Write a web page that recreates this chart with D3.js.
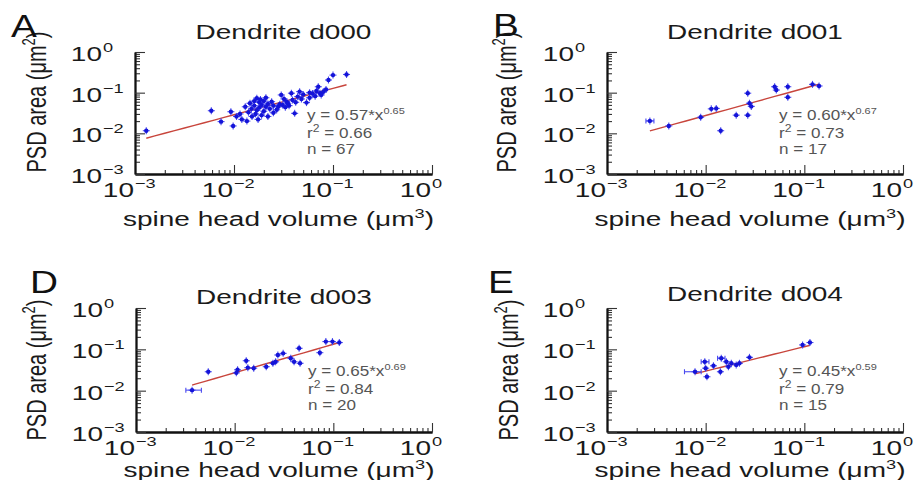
<!DOCTYPE html>
<html>
<head>
<meta charset="utf-8">
<script src="https://cdn.jsdelivr.net/npm/d3@7"></script>
<style>
  body { margin: 0; background: #fff; }
  svg text { font-family: "Liberation Sans", Arial, sans-serif; }
</style>
</head>
<body>
<div id="graphic"></div>
<script>
(function(d3){

    // Panel texts
    let panelLetters = ['A', 'B', 'D', 'E'];
    let panelTitles = ['Dendrite d000', 'Dendrite d001', 'Dendrite d003', 'Dendrite d004'];

    // Power-law fit y = a * x^b
    let fitCoef = ['0.57', '0.60', '0.65', '0.45'];
    let fitExp = ['0.65', '0.67', '0.69', '0.59'];
    let fitR2 = ['0.66', '0.73', '0.84', '0.79'];
    let fitN = [67, 17, 20, 15];

    // Decade ticks on both axes
    let decadeTicks = [1e-3, 1e-2, 1e-1, 1];
    let decadeExps = ['\u22123', '\u22122', '\u22121', '0'];

    // Spine head volume (um^3) and PSD area (um^2), one pair of arrays per dendrite
    let volA = [0.0013, 0.0059, 0.0074, 0.0093, 0.0098, 0.0106, 0.0115, 0.012,
                0.013, 0.0135, 0.014, 0.0145, 0.015, 0.0152, 0.016, 0.016, 0.0165, 0.017, 0.017, 0.0175,
                0.018, 0.018, 0.0185, 0.019, 0.019, 0.020, 0.020, 0.021, 0.021, 0.022, 0.022, 0.023,
                0.024, 0.025, 0.025, 0.027, 0.028, 0.029, 0.030, 0.031, 0.032, 0.033, 0.034, 0.035,
                0.036, 0.038, 0.039, 0.041, 0.042, 0.044, 0.046, 0.048, 0.050, 0.054, 0.058, 0.058,
                0.062, 0.066, 0.068, 0.071, 0.074, 0.076, 0.080, 0.085, 0.090, 0.100, 0.137];
    let psdA = [0.0116, 0.036, 0.0194, 0.034, 0.0152, 0.026, 0.030, 0.022,
                0.045, 0.020, 0.033, 0.055, 0.040, 0.026, 0.062, 0.048, 0.030, 0.073, 0.037, 0.022,
                0.058, 0.043, 0.068, 0.050, 0.028, 0.062, 0.035, 0.045, 0.075, 0.053, 0.026, 0.040,
                0.060, 0.032, 0.048, 0.038, 0.045, 0.052, 0.088, 0.050, 0.070, 0.044, 0.060, 0.055,
                0.048, 0.097, 0.066, 0.031, 0.058, 0.080, 0.106, 0.070, 0.090, 0.057, 0.075, 0.100,
                0.095, 0.082, 0.110, 0.140, 0.097, 0.088, 0.105, 0.120, 0.205, 0.270, 0.280];

    let volB = [0.00272, 0.00423, 0.0089, 0.0114, 0.0128, 0.0142, 0.0204, 0.0267, 0.0267,
                0.0278, 0.0290, 0.050, 0.052, 0.068, 0.068, 0.121, 0.141];
    let psdB = [0.0202, 0.0152, 0.0248, 0.040, 0.041, 0.0116, 0.028, 0.028, 0.097,
                0.055, 0.046, 0.140, 0.116, 0.140, 0.077, 0.160, 0.146];

    let volD = [0.0037, 0.0054, 0.0104, 0.0131, 0.0136, 0.0156, 0.0209, 0.0244, 0.026, 0.0274,
                0.031, 0.037, 0.040, 0.045, 0.046, 0.073, 0.084, 0.098, 0.115, 0.0107];
    let psdD = [0.0103, 0.0287, 0.027, 0.053, 0.036, 0.035, 0.038, 0.046, 0.050, 0.073,
                0.080, 0.061, 0.050, 0.106, 0.046, 0.083, 0.154, 0.154, 0.146, 0.032];

    let volE = [0.0078, 0.0098, 0.0100, 0.0103, 0.0120, 0.0141, 0.0144, 0.0162, 0.0170,
                0.0182, 0.0204, 0.022, 0.0278, 0.096, 0.114];
    let psdE = [0.0287, 0.050, 0.035, 0.0217, 0.040, 0.0287, 0.061, 0.050, 0.038,
                0.046, 0.042, 0.046, 0.064, 0.128, 0.146];

    // Wider horizontal error bars: [panel, volume, psd, low, high]
    let wideErrors = [
        [1, 0.00272, 0.0202, 0.00248, 0.00299],
        [2, 0.0037, 0.0103, 0.0032, 0.0046],
        [3, 0.0078, 0.0287, 0.0061, 0.0090],
        [3, 0.0098, 0.050, 0.0090, 0.0108],
        [3, 0.0144, 0.061, 0.0132, 0.0157]
    ];

    let volumes = [volA, volB, volD, volE];
    let areas = [psdA, psdB, psdD, psdE];

    let width = 924, height = 480;

    // The source figure was widened, so its lettering is stretched sideways
    let stretch = 1.4;

    // Axes box of each panel and where its texts go
    let boxes = [
        { left: 135, right: 432, top: 52, bottom: 174, letterX: 11, letterY: 37, titleY: 39, xLabY: 226, yLabX: 46, yLabY: 102 },
        { left: 607, right: 903, top: 52, bottom: 174, letterX: 493, letterY: 36, titleY: 39, xLabY: 226, yLabX: 516, yLabY: 102 },
        { left: 136, right: 432, top: 308, bottom: 432, letterX: 30, letterY: 293, titleY: 304, xLabY: 477, yLabX: 46, yLabY: 370 },
        { left: 607, right: 903, top: 308, bottom: 432, letterX: 488, letterY: 293, titleY: 301, xLabY: 477, yLabX: 518, yLabY: 370 }
    ];

    let dotColor = '#1414d8', errColor = '#4b4bf0', fitColor = '#c8453c', noteColor = '#555', inkColor = '#1a1a1a';

    let svg = d3.select('#graphic')
                .append('svg')
                .attr('width', width)
                .attr('height', height);

    // Text placed at (x, y) and stretched sideways
    function addText(g, x, y, size, sx, anchor, color)
    {
        return g.append('text')
                .attr('transform', `translate(${x},${y}) scale(${sx},1)`)
                .attr('text-anchor', anchor || 'start')
                .style('font-size', size + 'px')
                .attr('fill', color || inkColor);
    }

    // "10" ends at x, the exponent starts right after it
    function powerLabel(g, x, y, exp)
    {
        addText(g, x - 1, y, 20, stretch, 'end').text('10');
        addText(g, x, y - 9, 13, stretch, 'start').text(exp);
    }

    function drawPanel(i)
    {
        let box = boxes[i];
        let g = svg.append('g');

        let x = d3.scaleLog().domain([1e-3, 1]).range([box.left, box.right]);
        let y = d3.scaleLog().domain([1e-3, 1]).range([box.bottom, box.top]);

        let minorX = x.ticks().filter(t => decadeTicks.indexOf(t) < 0);
        let minorY = y.ticks().filter(t => decadeTicks.indexOf(t) < 0);

        // Inward ticks, long on the decades
        let xAxisG = g.append('g').attr('transform', `translate(0,${box.bottom})`);
        xAxisG.append('g').call(d3.axisBottom(x).tickValues(minorX).tickSizeInner(-4).tickSizeOuter(0).tickFormat(''));
        xAxisG.append('g').call(d3.axisBottom(x).tickValues(decadeTicks).tickSizeInner(-9).tickSizeOuter(0).tickFormat(''));

        let yAxisG = g.append('g').attr('transform', `translate(${box.left},0)`);
        yAxisG.append('g').call(d3.axisLeft(y).tickValues(minorY).tickSizeInner(-5).tickSizeOuter(0).tickFormat(''));
        yAxisG.append('g').call(d3.axisLeft(y).tickValues(decadeTicks).tickSizeInner(-10).tickSizeOuter(0).tickFormat(''));

        g.selectAll('.domain').attr('stroke', '#111').attr('stroke-width', 1.8);
        g.selectAll('.tick line').attr('stroke', '#333').attr('stroke-width', 1.1);

        // Tick labels: base 10 with the exponent raised after it
        decadeTicks.forEach((t, k) => {
            powerLabel(g, x(t), box.bottom + 23, decadeExps[k]);
            powerLabel(g, box.left - 32, y(t) + 9, decadeExps[k]);
        });

        // Axis labels
        let xLab = addText(g, (box.left + box.right) / 2 - 5, box.xLabY, 20, stretch, 'middle');
        xLab.append('tspan').text('spine head volume (\u03bcm');
        xLab.append('tspan').attr('dy', -8).style('font-size', '13px').text('3');
        xLab.append('tspan').attr('dy', 8).text(')');

        let yLab = g.append('text')
            .attr('transform', `translate(${box.yLabX},${box.yLabY}) scale(${stretch},1) rotate(-90)`)
            .attr('text-anchor', 'middle')
            .style('font-size', '20px')
            .attr('fill', inkColor);
        yLab.append('tspan').text('PSD area (\u03bcm');
        yLab.append('tspan').attr('dy', -8).style('font-size', '13px').text('2');
        yLab.append('tspan').attr('dy', 8).text(')');

        // Title and panel letter
        addText(g, (box.left + box.right) / 2, box.titleY, 20, stretch, 'middle')
            .text(panelTitles[i]);

        addText(g, box.letterX, box.letterY, 31, 1.25, 'start', '#111')
            .text(panelLetters[i]);

        // Fit line over the range of the data
        let vols = volumes[i], psds = areas[i];
        let a = +fitCoef[i], b = +fitExp[i];
        let xr = d3.extent(vols);
        let fitPts = d3.ticks(Math.log10(xr[0]), Math.log10(xr[1]), 20).concat([Math.log10(xr[0]), Math.log10(xr[1])])
                       .sort((p, q) => p - q)
                       .map(lv => [Math.pow(10, lv), a * Math.pow(Math.pow(10, lv), b)]);

        g.append('path')
         .attr('d', d3.line().x(p => x(p[0])).y(p => y(p[1]))(fitPts))
         .attr('fill', 'none')
         .attr('stroke', fitColor)
         .attr('stroke-width', 1.4);

        // Error crosses and dots
        let pts = vols.map((v, k) => [v, psds[k]]);
        let err = g.append('g').attr('stroke', errColor).attr('stroke-width', 1.1);
        pts.forEach(p => {
            let px = x(p[0]), py = y(p[1]);
            err.append('line').attr('x1', px - 3.5).attr('x2', px + 3.5).attr('y1', py).attr('y2', py);
            err.append('line').attr('x1', px).attr('x2', px).attr('y1', py - 3.5).attr('y2', py + 3.5);
        });

        wideErrors.filter(e => e[0] === i).forEach(e => {
            let py = y(e[2]);
            err.append('line').attr('x1', x(e[3])).attr('x2', x(e[4])).attr('y1', py).attr('y2', py);
            err.append('line').attr('x1', x(e[3])).attr('x2', x(e[3])).attr('y1', py - 2.5).attr('y2', py + 2.5);
            err.append('line').attr('x1', x(e[4])).attr('x2', x(e[4])).attr('y1', py - 2.5).attr('y2', py + 2.5);
        });

        g.append('g')
         .selectAll('circle')
         .data(pts)
         .join('circle')
         .attr('cx', p => x(p[0]))
         .attr('cy', p => y(p[1]))
         .attr('r', 2.2)
         .attr('fill', dotColor);

        // Fit annotation
        let noteX = box.left + 172;
        let n1 = addText(g, noteX, box.top + 68, 14, 1.22, 'start', noteColor);
        n1.append('tspan').text(`y = ${fitCoef[i]}*x`);
        n1.append('tspan').attr('dy', -6).style('font-size', '9px').text(fitExp[i]);

        let n2 = addText(g, noteX, box.top + 86, 14, 1.22, 'start', noteColor);
        n2.append('tspan').text('r');
        n2.append('tspan').attr('dy', -6).style('font-size', '10px').text('2');
        n2.append('tspan').attr('dy', 6).text(`  = ${fitR2[i]}`);

        addText(g, noteX, box.top + 102, 14, 1.22, 'start', noteColor)
            .text(`n = ${fitN[i]}`);
    }

    panelLetters.forEach((l, i) => drawPanel(i));

})(window.d3);
</script>
</body>
</html>
